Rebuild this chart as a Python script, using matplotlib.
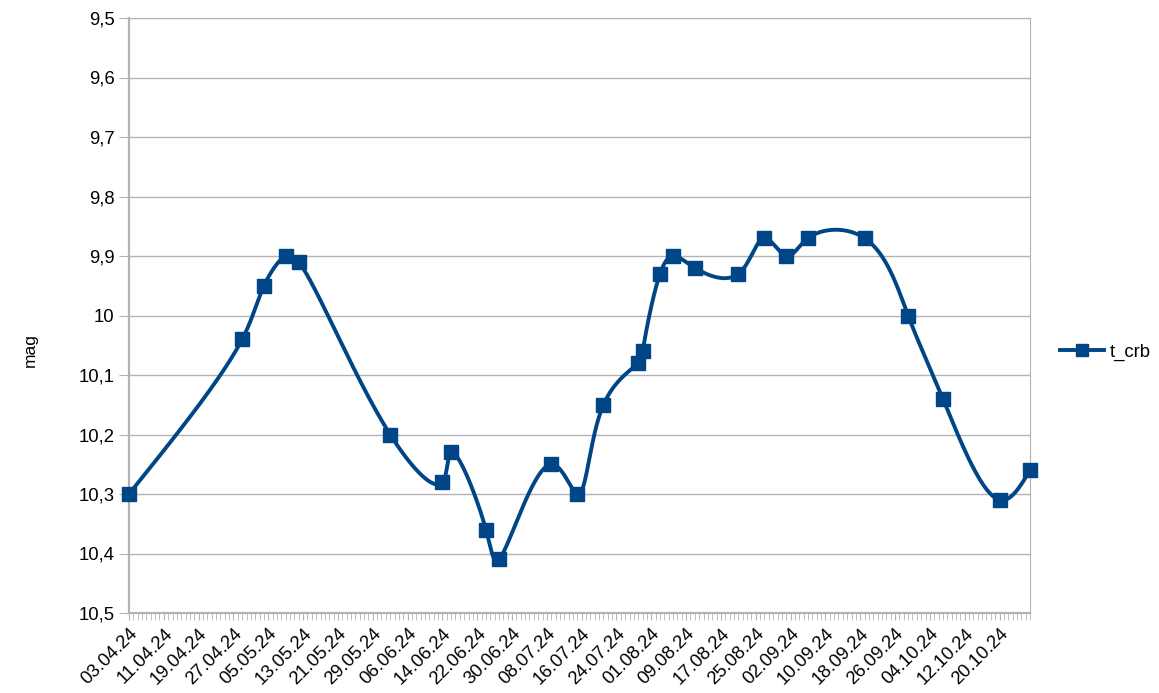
import numpy as np
import pandas as pd
import matplotlib
import matplotlib.pyplot as plt
import matplotlib.dates as mdates
from matplotlib.lines import Line2D
from matplotlib.ticker import FuncFormatter, MultipleLocator

plt.rcParams['font.family'] = ['Liberation Sans', 'DejaVu Sans']

# observation dates and magnitudes (t_crb)
dates = ['2024-04-03', '2024-04-29', '2024-05-04', '2024-05-09', '2024-05-12',
         '2024-06-02', '2024-06-14', '2024-06-16', '2024-06-24', '2024-06-27',
         '2024-07-09', '2024-07-15', '2024-07-21', '2024-07-29', '2024-07-30',
         '2024-08-03', '2024-08-06', '2024-08-11', '2024-08-21', '2024-08-27',
         '2024-09-01', '2024-09-06', '2024-09-19', '2024-09-29', '2024-10-07',
         '2024-10-20', '2024-10-27']
mags = [10.30, 10.04, 9.95, 9.90, 9.91,
        10.20, 10.28, 10.23, 10.36, 10.41,
        10.25, 10.30, 10.15, 10.08, 10.06,
        9.93, 9.90, 9.92, 9.93, 9.87,
        9.90, 9.87, 9.87, 10.00, 10.14,
        10.31, 10.26]

x = mdates.date2num(pd.to_datetime(dates))
y = np.array(mags)


def natural_spline(t, v, tt):
    # natural cubic spline, solved by hand (no scipy)
    n = len(t)
    h = np.diff(t)
    A = np.zeros((n, n))
    b = np.zeros(n)
    A[0, 0] = A[-1, -1] = 1
    for i in range(1, n - 1):
        A[i, i - 1] = h[i - 1]
        A[i, i] = 2 * (h[i - 1] + h[i])
        A[i, i + 1] = h[i]
        b[i] = 3 * ((v[i + 1] - v[i]) / h[i] - (v[i] - v[i - 1]) / h[i - 1])
    c = np.linalg.solve(A, b)
    out = np.empty_like(tt)
    idx = np.clip(np.searchsorted(t, tt) - 1, 0, n - 2)
    for k, i in enumerate(idx):
        d = tt[k] - t[i]
        bi = (v[i + 1] - v[i]) / h[i] - h[i] * (2 * c[i] + c[i + 1]) / 3
        di = (c[i + 1] - c[i]) / (3 * h[i])
        out[k] = v[i] + bi * d + c[i] * d ** 2 + di * d ** 3
    return out


# parametric spline, centripetal parameter in screen units
px = (x - x[0]) * 4.35
py = y * 595
s = np.concatenate([[0], np.cumsum(np.hypot(np.diff(px), np.diff(py)) ** 0.5)])
ss = np.linspace(0, s[-1], 3000)
xs = natural_spline(s, x, ss)
ys = natural_spline(s, y, ss)

fig = plt.figure(figsize=(11.59, 6.93), dpi=100)
ax = fig.add_axes([129 / 1159, 1 - 613 / 693, (1030 - 129) / 1159, (613 - 18) / 693])

blue = '#004586'
ax.plot(xs, ys, color=blue, lw=2.8, zorder=3)
ax.plot(x, y, ls='none', marker='s', ms=10.5, color=blue, zorder=4, clip_on=False)

ax.set_ylim(10.5, 9.5)
ax.set_xlim(x[0], x[-1])
ax.yaxis.set_major_locator(MultipleLocator(0.1))
ax.yaxis.set_major_formatter(FuncFormatter(
    lambda v, p: ('%.1f' % v).rstrip('0').rstrip('.').replace('.', ',')))
ax.grid(True, axis='y', color='#b3b3b3', lw=1)
ax.set_axisbelow(True)

start = x[0]
ax.set_xticks(np.arange(start, x[-1] + 0.5, 8))
ax.set_xticks(np.arange(start, x[-1] + 0.5, 1), minor=True)
ax.xaxis.set_major_formatter(mdates.DateFormatter('%d.%m.%y'))
plt.setp(ax.get_xticklabels(), rotation=45, ha='right', rotation_mode='anchor')

for sp in ax.spines.values():
    sp.set_color('#b3b3b3')
ax.spines['left'].set_linewidth(1.6)
ax.spines['bottom'].set_linewidth(1.6)
ax.tick_params(axis='both', colors='#b3b3b3', labelcolor='black', labelsize=13.3)
ax.tick_params(axis='x', which='minor', length=5, color='#b3b3b3')
ax.tick_params(axis='x', which='major', length=5)
ax.tick_params(axis='y', length=7)

fig.text(30 / 1159, 1 - 350 / 693, 'mag', rotation=90, ha='center', va='center', fontsize=12.5)
handle = Line2D([], [], color=blue, lw=2.8, marker='s', ms=8)
ax.legend([handle], ['t_crb'], loc='center left', bbox_to_anchor=(1.015, 1 - (352 - 18) / 595),
          frameon=False, fontsize=13.3, handlelength=2.4, handletextpad=0.3)

fig.savefig('out.png', dpi=100)
